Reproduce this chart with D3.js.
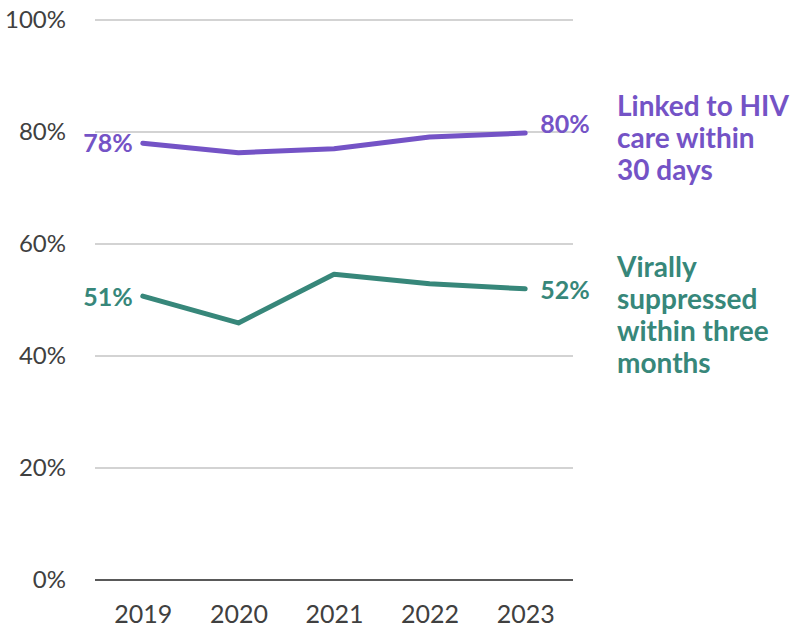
<!DOCTYPE html>
<html>
<head>
<meta charset="utf-8">
<script src="https://cdn.jsdelivr.net/npm/d3@7"></script>
<style>
  body { margin: 0; background: #fff; }
  svg text { font-family: Lato, "Open Sans", sans-serif; }
</style>
</head>
<body>
<svg width="798" height="635"></svg>
<script>
'use strict';
// data
const years = ['2019', '2020', '2021', '2022', '2023'];
const linkedCare = [78.0, 76.3, 77.0, 79.1, 79.8];
const viralSupp = [50.7, 45.9, 54.6, 52.9, 52.0];
const yTicks = [0, 20, 40, 60, 80, 100];
const linkedLabel = ['Linked to HIV', 'care within', '30 days'];
const viralLabel = ['Virally', 'suppressed', 'within three', 'months'];

(() => {
const purple = '#7453c6';
const green = '#37877a';

const svg = d3.select('svg');
const mLeft = 95, mRight = 573, mTop = 20, mBottom = 580;

const x = d3.scalePoint().domain(years).range([mLeft, mRight]).padding(0.5);
const y = d3.scaleLinear().domain([0, 100]).range([mBottom, mTop]);

// gridlines
svg.append('g')
  .selectAll('line')
  .data(yTicks.filter(d => d > 0))
  .join('line')
    .attr('x1', mLeft).attr('x2', mRight)
    .attr('y1', d => y(d)).attr('y2', d => y(d))
    .attr('stroke', '#c4c4c4')
    .attr('stroke-width', 1.5);

// y tick labels
svg.append('g')
  .selectAll('text')
  .data(yTicks)
  .join('text')
    .attr('x', 66)
    .attr('y', d => y(d))
    .attr('dy', '0.35em')
    .attr('text-anchor', 'end')
    .attr('font-size', 24)
    .attr('fill', '#404040')
    .text(d => d + '%');

// x axis
var xAxis = svg.append('g')
  .attr('transform', `translate(0, ${mBottom})`)
  .call(d3.axisBottom(x).tickSize(0).tickPadding(25));
xAxis.select('.domain')
  .attr('d', `M${mLeft},0H${mRight}`)
  .attr('stroke', '#595959')
  .attr('stroke-width', 1.8);
xAxis.selectAll('text')
  .attr('font-size', 25)
  .attr('fill', '#404040')
  .attr('font-family', 'Lato, "Open Sans", sans-serif');

const line = d3.line().x((d, i) => x(years[i])).y(d => y(d));

function drawSeries(values, color, firstDy, lastDy, labelLines, labelY) {
  svg.append('path')
    .datum(values)
    .attr('d', line)
    .attr('fill', 'none')
    .attr('stroke', color)
    .attr('stroke-width', 5)
    .attr('stroke-linecap', 'round')
    .attr('stroke-linejoin', 'round');

  svg.append('text')
    .attr('x', x(years[0]) - 10)
    .attr('y', y(values[0]) + firstDy)
    .attr('text-anchor', 'end')
    .attr('font-size', 25)
    .attr('font-weight', 'bold')
    .attr('fill', color)
    .text(Math.round(values[0]) + '%');

  const n = values.length - 1;
  svg.append('text')
    .attr('x', x(years[n]) + 15)
    .attr('y', y(values[n]) + lastDy)
    .attr('font-size', 25)
    .attr('font-weight', 'bold')
    .attr('fill', color)
    .text(Math.round(values[n]) + '%');

  svg.append('text')
    .attr('x', 617)
    .attr('y', labelY)
    .attr('font-size', 28)
    .attr('font-weight', 'bold')
    .attr('fill', color)
    .selectAll('tspan')
    .data(labelLines)
    .join('tspan')
      .attr('x', 617)
      .attr('dy', (d, i) => i ? 32 : 0)
      .text(d => d);
}

drawSeries(linkedCare, purple, 9, 0, linkedLabel, 116);
drawSeries(viralSupp, green, 10, 10, viralLabel, 277);
})();
</script>
</body>
</html>
